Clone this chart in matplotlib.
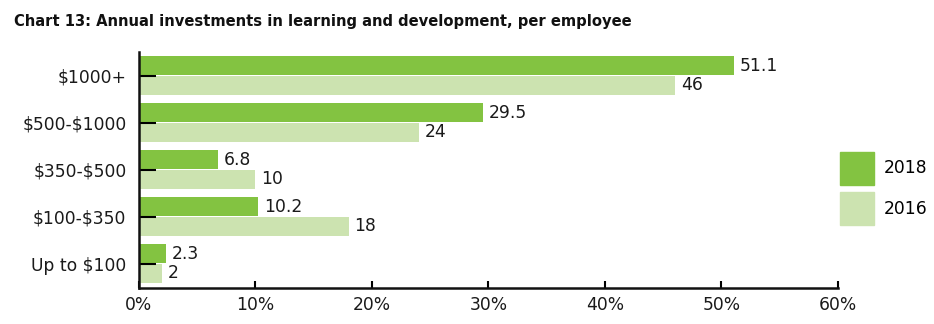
import matplotlib
matplotlib.use("Agg")
import matplotlib.pyplot as plt
from matplotlib.patches import Patch
import numpy as np

categories = ["$1000+", "$500-$1000", "$350-$500", "$100-$350", "Up to $100"]
values_2018 = [51.1, 29.5, 6.8, 10.2, 2.3]
values_2016 = [46, 24, 10, 18, 2]
series_names = ["2018", "2016"]
x_ticks = [0, 10, 20, 30, 40, 50, 60]

dark_green = "#83c341"
light_green = "#cce3b0"
text_color = "#1a1a1a"

plt.rcParams["font.family"] = ["DejaVu Sans"]
plt.rcParams["text.parse_math"] = False

fig = plt.figure(figsize=(9.34, 3.24), dpi=100)
ax = fig.add_axes([0.1488, 0.111, 0.7484, 0.7285])

y = np.arange(len(categories))
h = 0.4
off = h / 2 + 0.01
ax.barh(y - off, values_2018, height=h, color=dark_green, label=series_names[0])
ax.barh(y + off, values_2016, height=h, color=light_green, label=series_names[1])

fs = 12.3
for yi, v in zip(y, values_2018):
    ax.text(v + 0.5, yi - off, f"{v:g}", va="center", ha="left", fontsize=fs, color=text_color)
for yi, v in zip(y, values_2016):
    ax.text(v + 0.5, yi + off, f"{v:g}", va="center", ha="left", fontsize=fs, color=text_color)

ax.set_xlim(0, 60)
ax.set_ylim(len(categories) - 0.5 + 0.02, -0.5)
ax.set_xticks(x_ticks)
ax.set_xticklabels([f"{t}%" for t in x_ticks], fontsize=fs, color=text_color)
ax.set_yticks(y)
ax.set_yticklabels(categories, fontsize=fs, color=text_color)

for s in ["top", "right"]:
    ax.spines[s].set_visible(False)
for s in ["left", "bottom"]:
    ax.spines[s].set_linewidth(1.8)
    ax.spines[s].set_color("#111111")

ax.tick_params(axis="x", direction="in", length=5, width=1.5, pad=6)
ax.tick_params(axis="y", direction="in", length=12, width=1.5, pad=9)

ax.legend(
    handles=[Patch(color=dark_green), Patch(color=light_green)],
    labels=series_names,
    loc="upper left",
    bbox_to_anchor=(840 / 934, 1 - 152 / 324),
    bbox_transform=fig.transFigure,
    frameon=False,
    borderpad=0,
    borderaxespad=0,
    fontsize=fs,
    handlelength=2.0,
    handleheight=2.55,
    handletextpad=0.55,
    labelspacing=0.45,
)

fig.text(0.015, 0.935, "Chart 13: Annual investments in learning and development, per employee",
         fontsize=11.8, fontweight="bold", family=["DejaVu Sans"], fontstretch="condensed",
         ha="left", va="center", color="#111111")

fig.savefig("out.png", dpi=100)
